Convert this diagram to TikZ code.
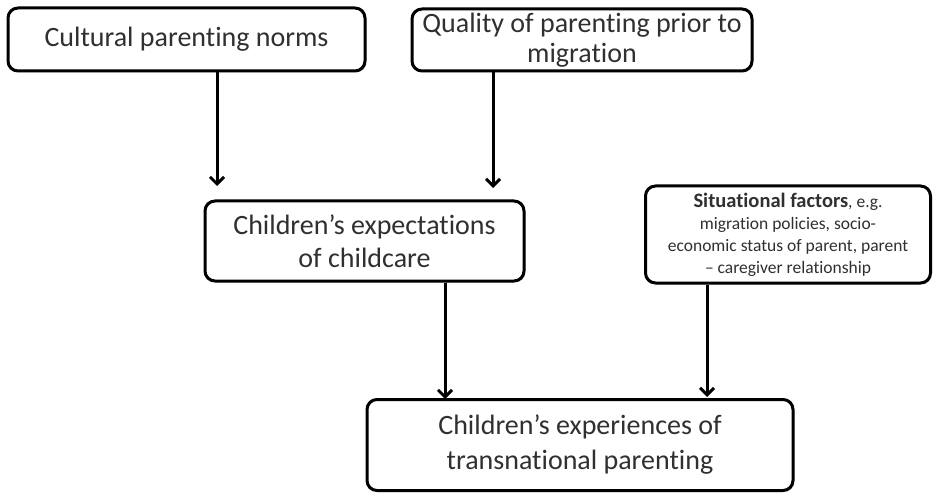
\documentclass[tikz,border=0pt]{standalone}
\usepackage{fontspec}
\setmainfont{Carlito}[RawFeature=-liga]
\usetikzlibrary{arrows.meta,shadows}
\definecolor{txt}{HTML}{303030}
\begin{document}
\begin{tikzpicture}[x=1pt,y=-1pt,
  box/.style={draw=black, line width=3pt, rounded corners=10pt, fill=white,
    align=center, inner sep=0pt, text=txt,
    drop shadow={opacity=0.25, shadow xshift=1.5pt, shadow yshift=-1.5pt}},
  arr/.style={line width=3pt, -{Straight Barb[length=7pt,width=14pt,line width=3pt]}}
]
\useasboundingbox (0,0) rectangle (933,494);
\node[box, minimum width=357pt, minimum height=63pt, font=\fontsize{28}{32}\selectfont] (b1) at (186.5,39.5) {Cultural parenting norms};
\node[box, minimum width=340pt, minimum height=62pt, font=\fontsize{28}{30}\selectfont] (b2) at (582,40) {Quality of parenting prior to\\ migration};
\node[box, minimum width=319pt, minimum height=80pt, font=\fontsize{28}{33}\selectfont] (b3) at (364.5,241) {Children’s expectations\\ of childcare};
\node[box, minimum width=285pt, minimum height=97pt, font=\fontsize{17.5}{22}\selectfont] (b4) at (788,234.5) {{\fontsize{20.5}{22}\selectfont\textbf{Situational factors}}, e.g.\\ migration policies, socio-\\ economic status of parent, parent\\ – caregiver relationship};
\node[box, minimum width=426pt, minimum height=91pt, font=\fontsize{28}{35}\selectfont] (b5) at (580,445) {Children’s experiences of\\ transnational parenting};
\coordinate (e1) at (217,186);
\coordinate (e2) at (493,188);
\coordinate (e3) at (445,399);
\coordinate (e4) at (707,397);
\draw[arr] (b1.south -| e1) -- (e1);
\draw[arr] (b2.south -| e2) -- (e2);
\draw[arr] (b3.south -| e3) -- (e3);
\draw[arr] (b4.south -| e4) -- (e4);
\end{tikzpicture}
\end{document}
